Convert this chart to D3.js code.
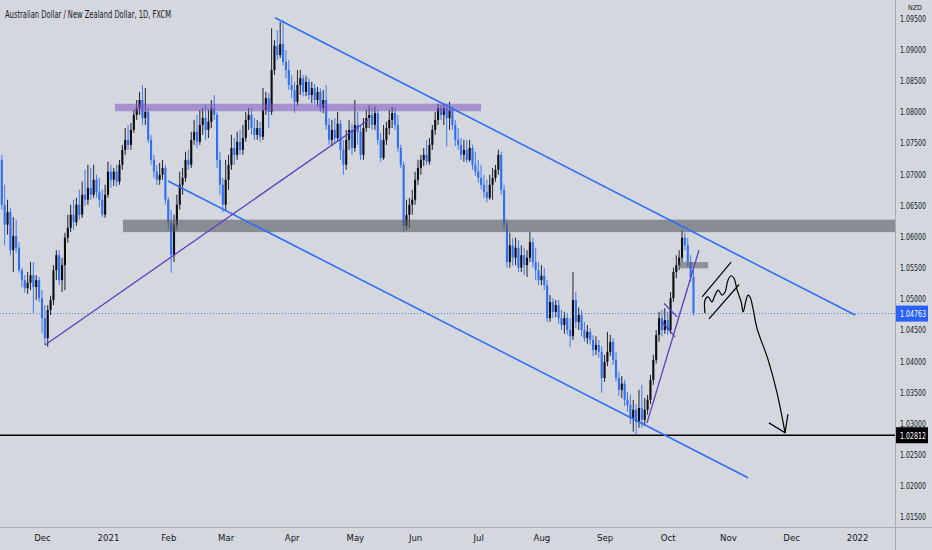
<!DOCTYPE html>
<html>
<head>
<meta charset="utf-8">
<script src="https://cdn.jsdelivr.net/npm/d3@7"></script>
<style>
  html, body { margin: 0; padding: 0; background: #d4d7de; }
  svg { display: block; }
</style>
</head>
<body>
<script>
// AUD/NZD daily, FXCM. open of each bar = previous close
const firstOpen = 1.0723;
const firstDay = new Date(2020, 10, 11);

const closes = [
  1.0651,1.0619,1.0639,1.0578,1.0601,1.0582,1.0546,1.0530,1.0517,1.0526,1.0538,1.0519,1.0530,1.0501,
  1.0469,1.0437,1.0482,1.0498,1.0546,1.0570,1.0530,1.0554,1.0598,1.0614,
  1.0635,1.0623,1.0651,1.0635,1.0667,1.0659,1.0678,1.0667,1.0691,1.0671,
  1.0659,1.0635,1.0667,1.0704,1.0691,1.0704,1.0688,1.0715,1.0739,1.0755,
  1.0747,1.0771,1.0795,1.0806,1.0819,1.0790,1.0800,1.0755,1.0723,1.0704,
  1.0691,1.0699,1.0710,1.0659,1.0623,1.0570,1.0619,1.0651,1.0683,1.0694,
  1.0723,1.0715,1.0755,1.0768,1.0752,1.0779,1.0790,1.0771,1.0784,1.0806,
  1.0795,1.0723,1.0683,1.0651,1.0691,1.0715,1.0742,1.0731,1.0752,1.0739,
  1.0758,1.0787,1.0795,1.0774,1.0763,1.0774,1.0760,1.0803,1.0822,1.0800,
  1.0867,1.0906,1.0891,1.0909,1.0880,1.0867,1.0843,1.0835,1.0816,1.0843,
  1.0854,1.0832,1.0848,1.0827,1.0838,1.0819,1.0832,1.0806,1.0819,1.0779,
  1.0755,1.0771,1.0758,1.0781,1.0739,1.0715,1.0755,1.0771,1.0742,1.0779,
  1.0768,1.0731,1.0774,1.0790,1.0795,1.0779,1.0798,1.0755,1.0726,1.0755,
  1.0774,1.0787,1.0798,1.0779,1.0742,1.0715,1.0617,1.0635,1.0651,1.0659,
  1.0691,1.0710,1.0723,1.0731,1.0720,1.0747,1.0771,1.0787,1.0806,1.0795,
  1.0806,1.0790,1.0803,1.0779,1.0755,1.0747,1.0731,1.0739,1.0723,1.0742,
  1.0715,1.0704,1.0694,1.0683,1.0671,1.0662,1.0683,1.0694,1.0707,1.0731,
  1.0675,1.0619,1.0559,1.0586,1.0566,1.0582,1.0550,1.0570,1.0554,1.0566,
  1.0591,1.0559,1.0546,1.0530,1.0537,1.0522,1.0469,1.0495,1.0479,1.0490,
  1.0469,1.0458,1.0469,1.0450,1.0440,1.0498,1.0463,1.0474,1.0450,1.0437,
  1.0447,1.0434,1.0418,1.0426,1.0415,1.0373,1.0399,1.0415,1.0431,1.0402,
  1.0373,1.0354,1.0364,1.0338,1.0330,1.0309,1.0322,1.0303,1.0325,1.0306,
  1.0322,1.0338,1.0370,1.0402,1.0442,1.0469,1.0450,1.0466,1.0450,1.0501,
  1.0543,1.0554,1.0566,1.0598,1.0586,1.0559,1.0535,1.04763
];

const highs = [
  1.0731,1.0683,1.0659,1.0646,1.0631,1.0627,1.0591,1.0550,1.0538,1.0543,1.0559,1.0559,1.0538,1.0535,
  1.0514,1.0490,1.0490,1.0505,1.0554,1.0578,1.0578,1.0566,1.0606,1.0635,
  1.0651,1.0659,1.0662,1.0675,1.0688,1.0707,1.0715,1.0710,1.0715,1.0699,
  1.0694,1.0675,1.0683,1.0720,1.0715,1.0710,1.0715,1.0723,1.0747,1.0774,
  1.0779,1.0782,1.0803,1.0819,1.0832,1.0843,1.0838,1.0806,1.0763,1.0731,
  1.0715,1.0718,1.0723,1.0715,1.0663,1.0643,1.0635,1.0667,1.0704,1.0710,
  1.0736,1.0739,1.0768,1.0787,1.0795,1.0803,1.0806,1.0811,1.0803,1.0819,
  1.0827,1.0800,1.0736,1.0694,1.0723,1.0731,1.0763,1.0758,1.0768,1.0771,
  1.0779,1.0800,1.0806,1.0806,1.0790,1.0787,1.0784,1.0838,1.0832,1.0830,
  1.0934,1.0915,1.0931,1.0944,1.0947,1.0899,1.0883,1.0859,1.0848,1.0867,
  1.0867,1.0859,1.0858,1.0854,1.0848,1.0845,1.0840,1.0838,1.0835,1.0843,
  1.0790,1.0787,1.0790,1.0800,1.0787,1.0755,1.0771,1.0787,1.0781,1.0819,
  1.0800,1.0779,1.0790,1.0803,1.0811,1.0806,1.0809,1.0803,1.0766,1.0779,
  1.0784,1.0803,1.0808,1.0806,1.0795,1.0747,1.0720,1.0659,1.0662,1.0675,
  1.0704,1.0723,1.0731,1.0742,1.0755,1.0758,1.0779,1.0800,1.0813,1.0811,
  1.0814,1.0813,1.0816,1.0809,1.0787,1.0774,1.0758,1.0755,1.0755,1.0755,
  1.0747,1.0736,1.0723,1.0715,1.0699,1.0691,1.0699,1.0710,1.0715,1.0739,
  1.0736,1.0683,1.0627,1.0606,1.0598,1.0598,1.0594,1.0586,1.0582,1.0578,
  1.0607,1.0598,1.0582,1.0559,1.0554,1.0550,1.0530,1.0506,1.0501,1.0498,
  1.0498,1.0482,1.0479,1.0477,1.0469,1.0543,1.0511,1.0486,1.0482,1.0463,
  1.0458,1.0453,1.0442,1.0440,1.0434,1.0424,1.0410,1.0447,1.0442,1.0437,
  1.0415,1.0383,1.0376,1.0370,1.0351,1.0346,1.0338,1.0331,1.0354,1.0362,
  1.0341,1.0346,1.0378,1.0410,1.0450,1.0479,1.0482,1.0485,1.0479,1.0511,
  1.0550,1.0570,1.0578,1.0610,1.0606,1.0598,1.0570,1.0546
];

const lows = [
  1.0643,1.0586,1.0603,1.0570,1.0543,1.0574,1.0542,1.0519,1.0510,1.0508,1.0514,1.0477,1.0498,1.0495,
  1.0445,1.0426,1.0423,1.0474,1.0490,1.0530,1.0522,1.0511,1.0514,1.0590,
  1.0607,1.0611,1.0617,1.0627,1.0630,1.0649,1.0651,1.0659,1.0662,1.0662,
  1.0647,1.0631,1.0630,1.0662,1.0678,1.0681,1.0680,1.0683,1.0707,1.0731,
  1.0739,1.0739,1.0766,1.0787,1.0795,1.0779,1.0779,1.0750,1.0715,1.0694,
  1.0683,1.0683,1.0691,1.0651,1.0611,1.0542,1.0559,1.0611,1.0643,1.0667,
  1.0688,1.0707,1.0710,1.0747,1.0742,1.0747,1.0763,1.0755,1.0758,1.0774,
  1.0787,1.0710,1.0667,1.0639,1.0643,1.0675,1.0707,1.0715,1.0723,1.0731,
  1.0731,1.0752,1.0771,1.0763,1.0755,1.0755,1.0752,1.0755,1.0795,1.0774,
  1.0795,1.0859,1.0883,1.0886,1.0874,1.0854,1.0835,1.0822,1.0798,1.0810,
  1.0827,1.0825,1.0825,1.0819,1.0814,1.0813,1.0809,1.0800,1.0798,1.0771,
  1.0747,1.0745,1.0750,1.0752,1.0723,1.0699,1.0707,1.0739,1.0731,1.0736,
  1.0747,1.0723,1.0723,1.0768,1.0774,1.0771,1.0771,1.0747,1.0720,1.0723,
  1.0747,1.0763,1.0774,1.0771,1.0736,1.0710,1.0607,1.0611,1.0614,1.0635,
  1.0651,1.0683,1.0699,1.0713,1.0715,1.0715,1.0739,1.0763,1.0779,1.0787,
  1.0779,1.0744,1.0771,1.0771,1.0745,1.0739,1.0723,1.0720,1.0718,1.0720,
  1.0707,1.0697,1.0686,1.0675,1.0662,1.0655,1.0659,1.0659,1.0688,1.0699,
  1.0667,1.0611,1.0550,1.0550,1.0553,1.0554,1.0543,1.0543,1.0538,1.0535,
  1.0559,1.0551,1.0530,1.0522,1.0522,1.0514,1.0463,1.0463,1.0469,1.0471,
  1.0460,1.0450,1.0444,1.0442,1.0423,1.0434,1.0453,1.0450,1.0440,1.0431,
  1.0428,1.0426,1.0408,1.0410,1.0405,1.0349,1.0367,1.0392,1.0408,1.0394,
  1.0367,1.0344,1.0341,1.0328,1.0319,1.0299,1.0287,1.0282,1.0293,1.0293,
  1.0296,1.0314,1.0331,1.0362,1.0396,1.0431,1.0440,1.0444,1.0442,1.0444,
  1.0495,1.0533,1.0546,1.0559,1.0578,1.0551,1.0527,1.0473
];

const monthLabels = ["Dec","2021","Feb","Mar","Apr","May","Jun","Jul","Aug","Sep","Oct","Nov","Dec","2022"];
const priceTicks = [1.015,1.02,1.025,1.03,1.035,1.04,1.045,1.05,1.055,1.06,1.065,1.07,1.075,1.08,1.085,1.09,1.095];

const lastPrice = 1.04763;
const supportLevel = 1.02812;

// drawings, as [bar index, price]
const channelUpper = [[95.2, 1.0951], [297.3, 1.0474]];
const channelLower = [[57.9, 1.0689], [260.0, 1.0213]];
const trendPurple = [[15.05, 1.0426], [127.6, 1.0787]];
const trendPurple2 = [[224.8, 1.0301], [242.9, 1.0578]];
const flagLines = [
  [[230.7, 1.0493], [235.3, 1.0471]],
  [[230.0, 1.0463], [234.6, 1.0439]]
];
const purpleZone = [39.4, 167.0, 1.0813, 1.0801];
const grayZone = [42.2, 320, 1.0627, 1.0607];
const smallZone = [236.0, 246.1, 1.0559, 1.0549];
const wedgeLines = [
  [[244.0, 1.0503], [254.1, 1.0559]],
  [[246.4, 1.0468], [256.9, 1.0523]]
];
const projection = [
  [245.0,1.0477],[245.0,1.0498],[246.1,1.0503],[247.4,1.0495],[248.5,1.0506],[249.6,1.0514],
  [250.9,1.0506],[252.0,1.0511],[253.0,1.0530],[254.1,1.0537],[255.1,1.0533],[256.2,1.0514],
  [257.6,1.0495],[258.3,1.0479],[259.3,1.0498],[260.0,1.0506],[260.7,1.0503],[261.7,1.0485],
  [263.1,1.0453],[267.0,1.0402],[270.1,1.0349],[272.9,1.0285]
];
const arrowHead = [[267.3, 1.0301], [272.9, 1.0285], [273.9, 1.0315]];

const w = 932;
const h = 550;
const plotW = 895;
const plotH = 527;

const upColor = "#0d0e12";
const downColor = "#2f6ef5";
const lineBlue = "#2f6ef5";
const purple = "#5a3fbe";
const textColor = "#131722";
const font = "'Liberation Sans Narrow', 'DejaVu Sans Condensed', Roboto, sans-serif";

const svg = d3.select("body").append("svg").attr("width", w).attr("height", h);

// build the candles
const candles = closes.map((c, i) => {
  const o = i === 0 ? firstOpen : closes[i - 1];
  return { i: i, o: o, h: Math.max(highs[i], o, c), l: Math.min(lows[i], o, c), c: c };
});

// weekday calendar for the x axis
const dates = [];
let d = new Date(firstDay);
while (dates.length < 320) {
  const wd = d.getDay();
  if (wd !== 0 && wd !== 6) dates.push(new Date(d));
  d.setDate(d.getDate() + 1);
}
const monthIdx = [];
for (let i = 1; i < dates.length && monthIdx.length < monthLabels.length; i++) {
  if (dates[i].getMonth() !== dates[i - 1].getMonth()) monthIdx.push(i);
}

const xScale = d3.scaleLinear().domain([0, 311.2]).range([1.8, plotW]);
const yScale = d3.scaleLinear().domain([1.015, 1.09]).range([517, 49.5]);

svg.append("rect").attr("width", w).attr("height", h).attr("fill", "#d4d7de");

svg.append("defs").append("clipPath").attr("id", "plot")
  .append("rect").attr("width", plotW).attr("height", plotH);

const plot = svg.append("g").attr("clip-path", "url(#plot)");

// candles
const bw = 2.1;
const cg = plot.append("g");
cg.selectAll("line")
  .data(candles)
  .enter()
  .append("line")
  .attr("x1", (d) => xScale(d.i))
  .attr("x2", (d) => xScale(d.i))
  .attr("y1", (d) => yScale(d.h))
  .attr("y2", (d) => yScale(d.l))
  .attr("stroke", (d) => (d.c >= d.o ? upColor : downColor))
  .attr("stroke-width", 0.9);
cg.selectAll("rect")
  .data(candles)
  .enter()
  .append("rect")
  .attr("x", (d) => xScale(d.i) - bw / 2)
  .attr("width", bw)
  .attr("y", (d) => yScale(Math.max(d.o, d.c)))
  .attr("height", (d) => Math.max(0.8, Math.abs(yScale(d.o) - yScale(d.c))))
  .attr("fill", (d) => (d.c >= d.o ? upColor : downColor));

// zones
const zone = (z, fill) => {
  plot.append("rect")
    .attr("x", xScale(z[0]))
    .attr("width", xScale(z[1]) - xScale(z[0]))
    .attr("y", yScale(z[2]))
    .attr("height", yScale(z[3]) - yScale(z[2]))
    .attr("fill", fill);
};
zone(purpleZone, "rgba(126,87,194,0.55)");
zone(grayZone, "rgba(88,90,96,0.6)");
zone(smallZone, "rgba(88,90,96,0.55)");

// last price dotted line and support line
plot.append("line")
  .attr("x1", 0).attr("x2", plotW)
  .attr("y1", yScale(lastPrice)).attr("y2", yScale(lastPrice))
  .attr("stroke", lineBlue).attr("stroke-width", 0.8)
  .attr("stroke-dasharray", "1,2");
plot.append("line")
  .attr("x1", 0).attr("x2", plotW)
  .attr("y1", yScale(supportLevel)).attr("y2", yScale(supportLevel))
  .attr("stroke", "#000").attr("stroke-width", 1.6);

const seg = d3.line().x((p) => xScale(p[0])).y((p) => yScale(p[1]));
const drawSeg = (pts, color, width) => {
  plot.append("path").attr("d", seg(pts)).attr("fill", "none")
    .attr("stroke", color).attr("stroke-width", width);
};

drawSeg(channelUpper, lineBlue, 1.6);
drawSeg(channelLower, lineBlue, 1.6);
drawSeg(trendPurple, purple, 1.3);
drawSeg(trendPurple2, purple, 1.3);
flagLines.forEach((l) => drawSeg(l, purple, 1.3));
wedgeLines.forEach((l) => drawSeg(l, "#000", 1.2));

const curve = d3.line().x((p) => xScale(p[0])).y((p) => yScale(p[1])).curve(d3.curveCatmullRom);
plot.append("path").attr("d", curve(projection)).attr("fill", "none")
  .attr("stroke", "#000").attr("stroke-width", 1.2);
drawSeg(arrowHead, "#000", 1.2);

// separators
svg.append("line").attr("x1", plotW + 0.5).attr("x2", plotW + 0.5).attr("y1", 0).attr("y2", h)
  .attr("stroke", "#a9acb4").attr("stroke-width", 1);
svg.append("line").attr("x1", 0).attr("x2", w).attr("y1", plotH + 0.5).attr("y2", plotH + 0.5)
  .attr("stroke", "#a9acb4").attr("stroke-width", 1);

// y axis
const yAxis = d3.axisRight(yScale).tickValues(priceTicks).tickSize(0).tickPadding(5)
  .tickFormat(d3.format(".5f"));
const yg = svg.append("g").attr("transform", "translate(" + plotW + ",0)").call(yAxis);
yg.select(".domain").remove();
yg.selectAll("text")
  .attr("fill", textColor)
  .style("font-family", font)
  .style("font-size", "9px")
  .attr("textLength", 26)
  .attr("lengthAdjust", "spacingAndGlyphs");

// x axis
const xAxis = d3.axisBottom(xScale).tickValues(monthIdx).tickSize(0).tickPadding(7)
  .tickFormat((v, k) => monthLabels[k]);
const xg = svg.append("g").attr("transform", "translate(0," + plotH + ")").call(xAxis);
xg.select(".domain").remove();
xg.selectAll("text")
  .attr("fill", textColor)
  .style("font-family", font)
  .style("font-size", "9.5px");

// price tags
const tag = (price, bg) => {
  const y = yScale(price);
  svg.append("rect").attr("x", plotW + 1).attr("y", y - 8).attr("width", 32).attr("height", 16)
    .attr("fill", bg);
  svg.append("text").attr("x", plotW + 5).attr("y", y + 3.5)
    .attr("fill", "#fff")
    .style("font-family", font)
    .style("font-size", "9px")
    .attr("textLength", 26)
    .attr("lengthAdjust", "spacingAndGlyphs")
    .text(d3.format(".5f")(price));
};
tag(lastPrice, "#2962ff");
tag(supportLevel, "#000");

// title and currency
svg.append("text")
  .attr("x", 5).attr("y", 18)
  .attr("fill", textColor)
  .style("font-family", font)
  .style("font-size", "11px")
  .attr("textLength", 166)
  .attr("lengthAdjust", "spacingAndGlyphs")
  .text("Australian Dollar / New Zealand Dollar, 1D, FXCM");

svg.append("text")
  .attr("x", 908).attr("y", 10)
  .attr("fill", textColor)
  .style("font-family", font)
  .style("font-size", "7px")
  .text("NZD");
</script>
</body>
</html>
